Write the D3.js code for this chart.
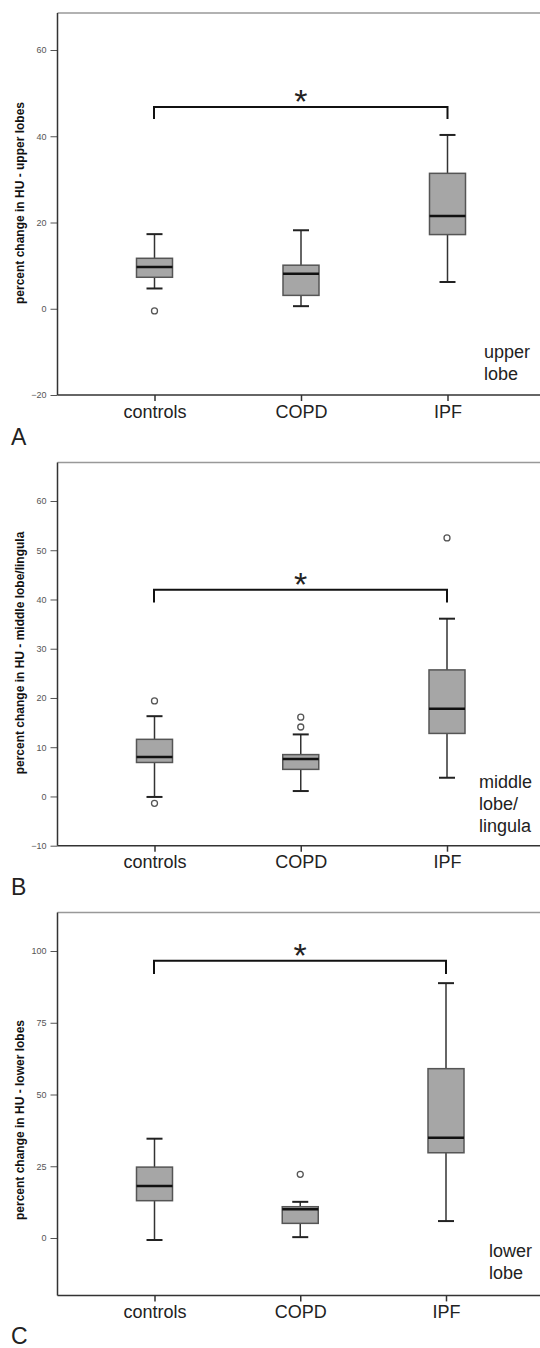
<!DOCTYPE html>
<html>
<head>
<meta charset="utf-8">
<script src="https://cdn.jsdelivr.net/npm/d3@7"></script>
<style>
  body { margin: 0; background: #fff; }
  svg { display: block; font-family: 'Liberation Sans', Arial, sans-serif; }
</style>
</head>
<body>
<div id="visualization"></div>
<script>
// groups on the x axis
var categories = ['controls', 'COPD', 'IPF']

// box stats per group: [whisker low, q1, median, q3, whisker high]
var upperStats = [[4.7, 7.3, 9.7, 11.7, 17.3], [0.6, 3.1, 8.1, 10.1, 18.2], [6.2, 17.2, 21.5, 31.4, 40.3]]
var upperOutliers = [[-0.5], [], []]
var upperTicks = [-20, 0, 20, 40, 60]

var middleStats = [[-0.1, 6.9, 8.0, 11.6, 16.3], [1.1, 5.5, 7.6, 8.5, 12.6], [3.8, 12.8, 17.8, 25.7, 36.1]]
var middleOutliers = [[19.4, -1.4], [16.1, 14.1], [52.5]]
var middleTicks = [-10, 0, 10, 20, 30, 40, 50, 60]

var lowerStats = [[-0.7, 13.0, 18.1, 24.7, 34.6], [0.3, 5.1, 10.0, 10.9, 12.6], [5.9, 29.7, 34.9, 59.0, 88.8]]
var lowerOutliers = [[], [22.2], []]
var lowerTicks = [0, 25, 50, 75, 100]

// significance bracket: [bar level, leg end]
var upperBracket = [46.8, 44]
var middleBracket = [42, 39.4]
var lowerBracket = [96.6, 92]

var width = 540
var height = 1348

var svg = d3.select('#visualization')
  .append('svg')
  .attr('width', width)
  .attr('height', height)

function drawPanel (p) {
  var g = svg.append('g')

  var x = d3.scalePoint()
    .domain(categories)
    .range([p.x0, p.x1])

  var y = d3.scaleLinear()
    .domain(p.domain)
    .range(p.range)

  var left = 57.5
  var top = y(p.topValue)
  var bottom = y(p.bottomValue)

  // top border (light)
  g.append('line')
    .attr('x1', left).attr('x2', width)
    .attr('y1', top).attr('y2', top)
    .attr('stroke', '#999').attr('stroke-width', 1.5)

  // left axis
  var yAxis = g.append('g')
    .attr('transform', 'translate(' + left + ',0)')
    .call(d3.axisLeft(y).tickValues(p.ticks).tickSize(7).tickPadding(4))
  yAxis.select('.domain').remove()
  yAxis.append('line')
    .attr('x1', 0).attr('x2', 0)
    .attr('y1', top).attr('y2', bottom)
    .attr('stroke', '#333').attr('stroke-width', 1.5)
  yAxis.selectAll('.tick line').attr('stroke', '#555')
  yAxis.selectAll('.tick text')
    .attr('fill', '#555')
    .style('font-size', '9px')

  // bottom axis
  var xAxis = g.append('g')
    .attr('transform', 'translate(0,' + bottom + ')')
    .call(d3.axisBottom(x).tickSize(6).tickPadding(4))
  xAxis.select('.domain').remove()
  xAxis.append('line')
    .attr('x1', left).attr('x2', width)
    .attr('y1', 0).attr('y2', 0)
    .attr('stroke', '#333').attr('stroke-width', 1.5)
  xAxis.selectAll('.tick line').attr('stroke', '#333').attr('stroke-width', 1.5)
  xAxis.selectAll('.tick text')
    .attr('fill', '#222')
    .style('font-size', '18px')

  // y label
  g.append('text')
    .attr('transform', 'translate(20,' + p.labelY + ') rotate(-90)')
    .attr('text-anchor', 'middle')
    .attr('dy', '0.35em')
    .style('font-size', '12px')
    .style('font-weight', 'bold')
    .attr('fill', '#111')
    .text(p.label)

  // boxes
  var boxW = 36
  var capW = 16
  p.stats.forEach(function (s, i) {
    var cx = x(categories[i])
    var b = g.append('g')
    b.append('line')
      .attr('x1', cx).attr('x2', cx)
      .attr('y1', y(s[0])).attr('y2', y(s[4]))
      .attr('stroke', '#333').attr('stroke-width', 1.5)
    b.append('line')
      .attr('x1', cx - capW / 2).attr('x2', cx + capW / 2)
      .attr('y1', y(s[0])).attr('y2', y(s[0]))
      .attr('stroke', '#222').attr('stroke-width', 2)
    b.append('line')
      .attr('x1', cx - capW / 2).attr('x2', cx + capW / 2)
      .attr('y1', y(s[4])).attr('y2', y(s[4]))
      .attr('stroke', '#222').attr('stroke-width', 2)
    b.append('rect')
      .attr('x', cx - boxW / 2)
      .attr('y', y(s[3]))
      .attr('width', boxW)
      .attr('height', y(s[1]) - y(s[3]))
      .attr('fill', '#a6a6a6')
      .attr('stroke', '#555')
      .attr('stroke-width', 1.5)
    b.append('line')
      .attr('x1', cx - boxW / 2).attr('x2', cx + boxW / 2)
      .attr('y1', y(s[2])).attr('y2', y(s[2]))
      .attr('stroke', '#111').attr('stroke-width', 2.5)

    b.selectAll('circle')
      .data(p.outliers[i])
      .enter()
      .append('circle')
      .attr('cx', cx)
      .attr('cy', function (d) { return y(d) })
      .attr('r', 3)
      .attr('fill', '#fff')
      .attr('stroke', '#555')
      .attr('stroke-width', 1.3)
  })

  // significance bracket
  var bx0 = x(categories[0]) - 0.5
  var bx1 = x(categories[2])
  g.append('path')
    .attr('d', 'M' + bx0 + ',' + y(p.bracket[1]) + 'V' + y(p.bracket[0]) + 'H' + bx1 + 'V' + y(p.bracket[1]))
    .attr('fill', 'none')
    .attr('stroke', '#111')
    .attr('stroke-width', 2)
  g.append('text')
    .attr('x', (bx0 + bx1) / 2)
    .attr('y', y(p.bracket[0]) + 6)
    .attr('text-anchor', 'middle')
    .style('font-size', '34px')
    .attr('fill', '#222')
    .text('*')

  // lobe note
  var note = g.append('text')
    .attr('x', p.noteX)
    .attr('y', p.noteY)
    .style('font-size', '18px')
    .attr('fill', '#222')
  p.note.forEach(function (t, i) {
    note.append('tspan')
      .attr('x', p.noteX)
      .attr('dy', i === 0 ? 0 : 22)
      .text(t)
  })

  // panel letter
  g.append('text')
    .attr('x', 11)
    .attr('y', p.letterY)
    .style('font-size', '23px')
    .attr('fill', '#222')
    .text(p.letter)
}

drawPanel({
  stats: upperStats, outliers: upperOutliers, ticks: upperTicks, bracket: upperBracket,
  domain: [-20, 60], range: [395, 50], topValue: 68.6, bottomValue: -20,
  x0: 154.5, x1: 447.5,
  label: 'percent change in HU - upper lobes', labelY: 203,
  note: ['upper', 'lobe'], noteX: 484, noteY: 358,
  letter: 'A', letterY: 445
})

drawPanel({
  stats: middleStats, outliers: middleOutliers, ticks: middleTicks, bracket: middleBracket,
  domain: [-10, 60], range: [845.7, 501], topValue: 67.8, bottomValue: -10,
  x0: 154.5, x1: 447,
  label: 'percent change in HU - middle lobe/lingula', labelY: 653,
  note: ['middle', 'lobe/', 'lingula'], noteX: 479, noteY: 788,
  letter: 'B', letterY: 895
})

drawPanel({
  stats: lowerStats, outliers: lowerOutliers, ticks: lowerTicks, bracket: lowerBracket,
  domain: [0, 100], range: [1238, 951], topValue: 113.4, bottomValue: -20,
  x0: 154.5, x1: 446,
  label: 'percent change in HU - lower lobes', labelY: 1120,
  note: ['lower', 'lobe'], noteX: 489, noteY: 1257,
  letter: 'C', letterY: 1344
})
</script>
</body>
</html>
